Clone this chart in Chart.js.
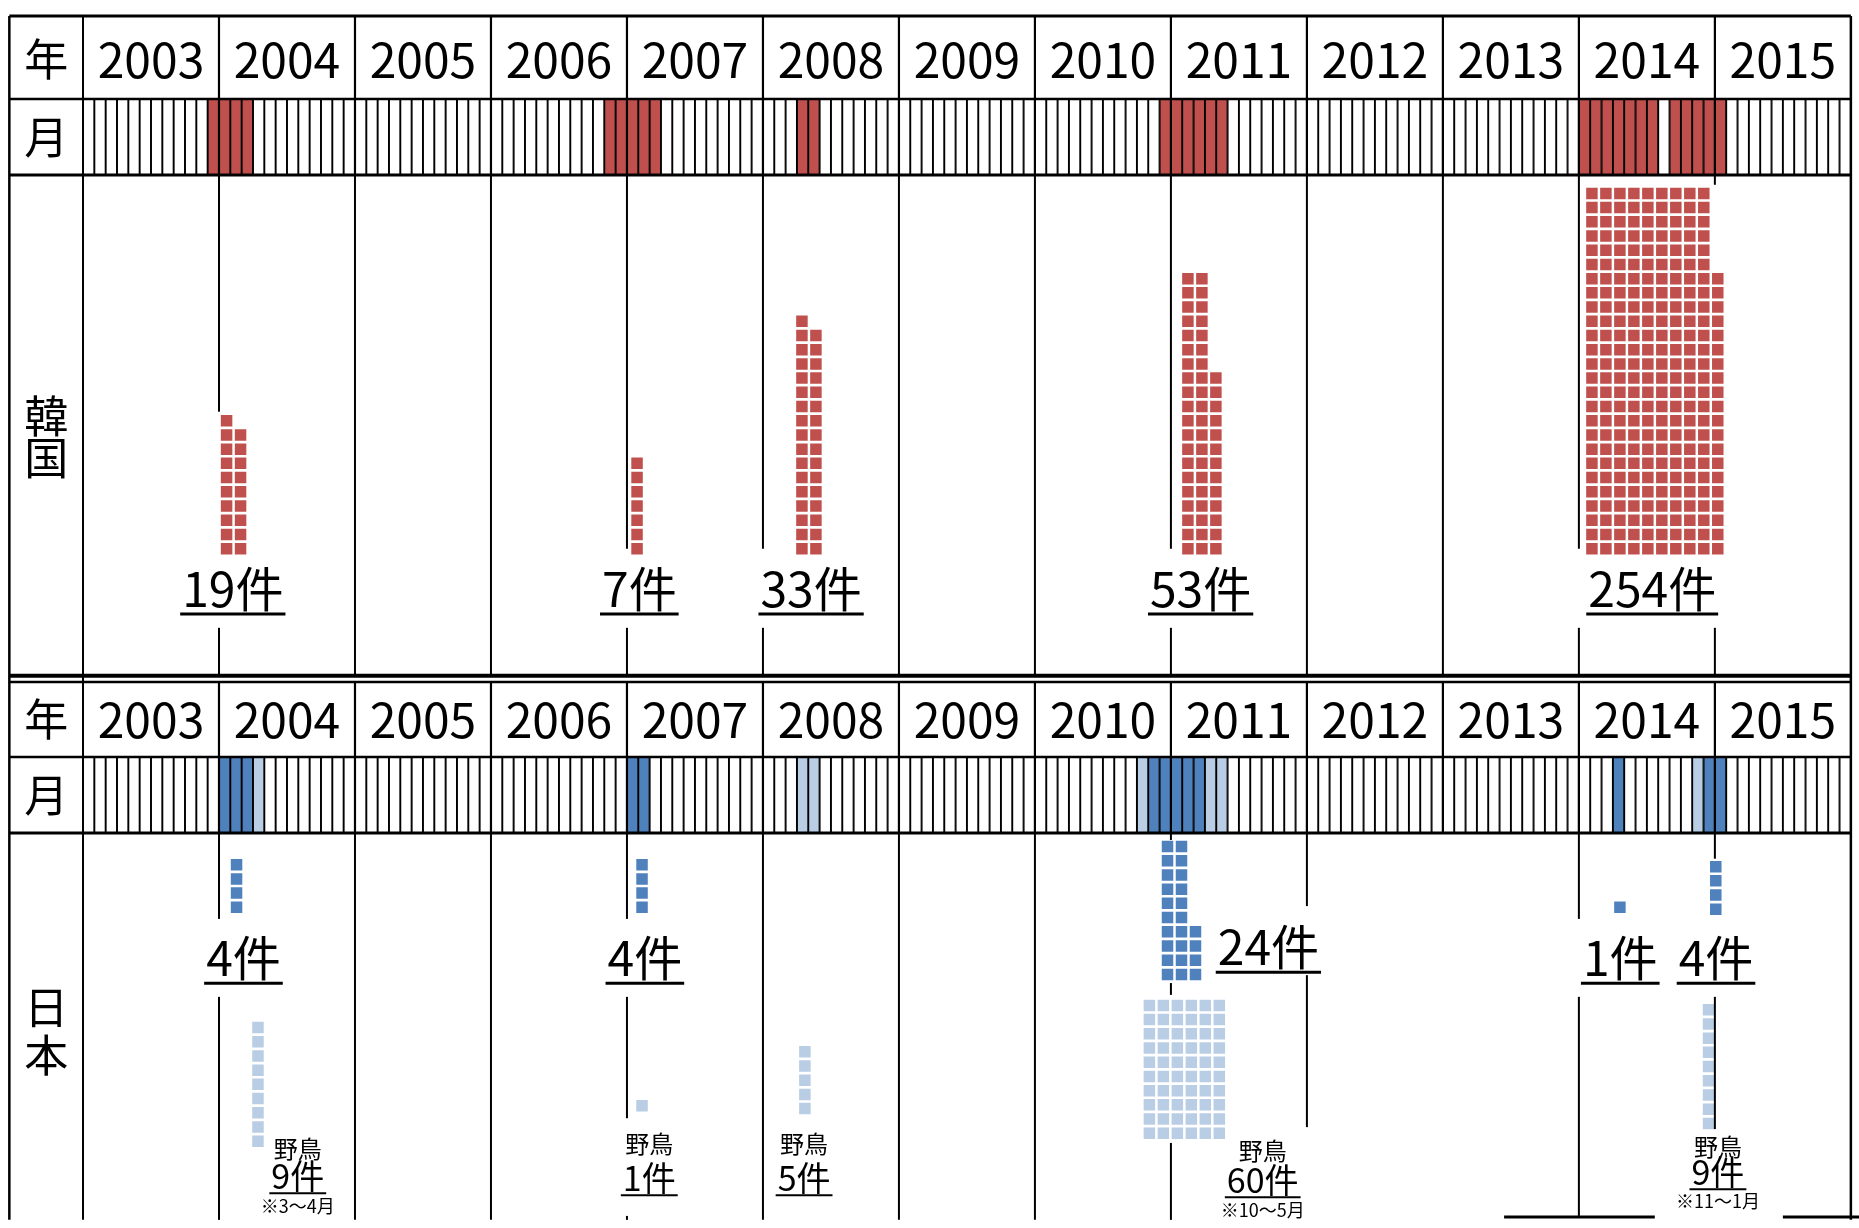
<!DOCTYPE html>
<html lang="ja">
<head>
<meta charset="utf-8">
<title>鳥インフルエンザ発生状況 韓国・日本</title>
<script src="https://cdn.jsdelivr.net/npm/chart.js@4.4.1/dist/chart.umd.min.js"></script>
<style>
  html, body { margin: 0; padding: 0; background: #fff; }
  #wrap { width: 1859px; height: 1228px; position: relative; }
</style>
</head>
<body>
<div id="wrap"><canvas id="chart"></canvas></div>
<script>
// year row
const years = ['2003', '2004', '2005', '2006', '2007', '2008', '2009', '2010', '2011', '2012', '2013', '2014', '2015']

// months with outbreaks, counted from 2003/1 (= 0)
const krMonths = [11, 12, 13, 14, 46, 47, 48, 49, 50, 63, 64, 95, 96, 97, 98, 99, 100,
                  132, 133, 134, 135, 136, 137, 138, 140, 141, 142, 143, 144]
const jpPoultryMonths = [12, 13, 14, 48, 49, 94, 95, 96, 97, 98, 135, 143, 144]
const jpWildMonths = [15, 63, 64, 93, 99, 100, 142]

// cases per outbreak, and how the squares pile up in columns
const krCounts = [19, 7, 33, 53, 254]
const krColumns = [[10, 9], [7], [17, 16], [20, 20, 13], [26, 26, 26, 26, 26, 26, 26, 26, 26, 20]]
const jpPoultryCounts = [4, 4, 24, 1, 4]
const jpPoultryColumns = [[4], [4], [10, 10, 4], [1], [4]]
const jpWildCounts = [9, 1, 5, 60, 9]
const jpWildColumns = [[9], [1], [5], [10, 10, 10, 10, 10, 10], [9]]
const jpWildPeriods = ['※3～4月', '', '', '※10～5月', '※11～1月']

const RED = '#c0504d'
const BLUE = '#4f81bd'
const LIGHT = '#b9cde5'
const FONT = '"Noto Sans CJK JP", "Noto Sans", sans-serif'

// layout (x in months from 2003/1, y in px from the top)
const SQUARE = 11.5
const ROW_STEP = 14.4
const COL_STEP = 1.234
const krPlace = [[12.67, 553.5], [48.89, 553.5], [63.44, 553.5], [97.5, 553.5], [133.15, 553.5]]
const jpPoultryPlace = [[13.55, 917], [49.33, 917], [95.7, 985], [135.62, 917], [144.08, 919]]
const jpWildPlace = [[15.44, 1154], [49.33, 1118], [63.7, 1121], [94.1, 1146], [143.44, 1136]]
const krLabelAt = [[13.22, 607], [49.09, 607], [64.25, 607], [98.62, 607], [138.47, 607]]
const jpPoultryLabelAt = [[14.16, 981], [49.58, 981], [104.6, 970], [135.65, 981], [144.1, 981]]
const jpWildLabelAt = [[18.95, 1165, 1197, 1221], [49.97, 1160, 1199, 0], [63.63, 1160, 1199, 0],
                       [104.1, 1167, 1201, 1225], [144.27, 1163, 1193, 1216]]

const panels = [
    {top: 8, year: 92, month: 169, end: 676, yearY: 52, monthY: 131, name: ['韓', '国'], nameY: [414, 456]},
    {top: 683, year: 759, month: 836, end: 1228, yearY: 721, monthY: 798, name: ['日', '本'], nameY: [1013, 1061]}
]
// body rules at year boundaries that are broken by squares or labels
const bodyBreaks = [
    {1: [[169, 409], [628, 676]], 4: [[169, 548], [628, 676]], 5: [[169, 548], [628, 676]],
     8: [[169, 548], [628, 676]], 11: [[169, 548], [628, 676]], 12: [[169, 179], [628, 676]]},
    {1: [[836, 923], [1002, 1228]], 4: [[836, 923], [1002, 1125], [1224, 1228]],
     8: [[836, 843], [988, 1000], [1150, 1228]], 9: [[836, 910], [980, 1134]], 10: [],
     11: [[836, 923], [1002, 1224]], 12: [[836, 862], [1002, 1136]]}
]

const monthIdx = Array.from({length: 156}, (_, i) => i)

function cells(p) {
    return monthIdx.map(i => ({x: i + 0.5, y: [p.year, p.month]}))
}

function squares(columns, place) {
    let pts = []
    columns.forEach((cols, b) => {
        cols.forEach((n, c) => {
            for (let r = 0; r < n; r++) {
                pts.push({x: place[b][0] + c * COL_STEP, y: place[b][1] - SQUARE / 2 - r * ROW_STEP})
            }
        })
    })
    return pts
}

const krColors = monthIdx.map(i => krMonths.includes(i) ? RED : '#fff')
const jpColors = monthIdx.map(i => jpPoultryMonths.includes(i) ? BLUE : (jpWildMonths.includes(i) ? LIGHT : '#fff'))

function rule(ctx, x1, y1, x2, y2, w) {
    ctx.beginPath()
    ctx.lineWidth = w
    ctx.moveTo(x1, y1)
    ctx.lineTo(x2, y2)
    ctx.stroke()
}

function text(ctx, txt, x, y, size, under, uw) {
    ctx.font = size + 'px ' + FONT
    ctx.fillText(txt, x, y)
    if (under) {
        const w = ctx.measureText(txt).width
        rule(ctx, x - w / 2 - 2, y + under, x + w / 2 + 2, y + under, uw)
    }
}

const tablePlugin = {
    id: 'table',
    afterDatasetsDraw(chart) {
        const ctx = chart.ctx
        const X = v => chart.scales.x.getPixelForValue(v)
        const Y = v => chart.scales.y.getPixelForValue(v)
        ctx.save()
        ctx.strokeStyle = '#000'
        ctx.fillStyle = '#000'
        ctx.lineCap = 'butt'

        panels.forEach((p, pi) => {
            // frame of the year and month rows
            rule(ctx, X(-6.5), Y(p.top), X(156), Y(p.top), pi == 0 ? 3 : 2.5)
            rule(ctx, X(-6.5), Y(p.year), X(156), Y(p.year), 2.5)
            rule(ctx, X(-6.5), Y(p.month), X(156), Y(p.month), 3)
            for (let k = 1; k < 13; k++) {
                rule(ctx, X(12 * k), Y(p.top), X(12 * k), Y(p.month), 2.2)
                const segs = bodyBreaks[pi][k] || [[p.month, p.end]]
                segs.forEach(s => rule(ctx, X(12 * k), Y(s[0]), X(12 * k), Y(s[1]), 2))
            }
            ctx.textAlign = 'center'
            ctx.textBaseline = 'middle'
            ctx.font = '44px ' + FONT
            ctx.fillText('年', X(-3.25), Y(p.yearY))
            ctx.fillText('月', X(-3.25), Y(p.monthY))
            p.name.forEach((ch, i) => ctx.fillText(ch, X(-3.25), Y(p.nameY[i])))
            ctx.font = '48px ' + FONT
            years.forEach((yr, i) => ctx.fillText(yr, X(12 * i + 6), Y(p.yearY)))
        })
        // outer verticals and the double rule between the two panels
        rule(ctx, X(-6.5), Y(8), X(-6.5), Y(1228), 2.5)
        rule(ctx, X(0), Y(8), X(0), Y(1228), 2)
        rule(ctx, X(156), Y(8), X(156), Y(1228), 2.5)
        rule(ctx, X(-6.5), Y(676.5), X(156), Y(676.5), 4)
        // start of the box below (cut off)
        rule(ctx, X(125.4), Y(1225), X(138.7), Y(1225), 3)
        rule(ctx, X(150), Y(1225), X(157), Y(1225), 3)

        ctx.textAlign = 'center'
        ctx.textBaseline = 'alphabetic'
        krCounts.forEach((n, i) => text(ctx, n + '件', X(krLabelAt[i][0]), Y(krLabelAt[i][1]), 48, 7, 3))
        jpPoultryCounts.forEach((n, i) => text(ctx, n + '件', X(jpPoultryLabelAt[i][0]), Y(jpPoultryLabelAt[i][1]), 48, 7, 3))
        jpWildCounts.forEach((n, i) => {
            const a = jpWildLabelAt[i]
            text(ctx, '野鳥', X(a[0]), Y(a[1]), 24)
            text(ctx, n + '件', X(a[0]), Y(a[2]), 34, 4, 2)
            if (jpWildPeriods[i]) text(ctx, jpWildPeriods[i], X(a[0]), Y(a[3]), 18)
        })
        ctx.restore()
    }
}

const cellStyle = {type: 'bar', borderColor: '#000', borderWidth: 1.3, borderSkipped: false,
                   grouped: false, barPercentage: 1, categoryPercentage: 1}
const squareStyle = {type: 'scatter', pointStyle: 'rect', pointRadius: SQUARE / Math.SQRT2,
                     pointBorderWidth: 0, pointHoverRadius: SQUARE / Math.SQRT2}

new Chart(document.getElementById('chart'), {
    type: 'bar',
    data: {
        datasets: [
            Object.assign({label: '韓国 月', data: cells(panels[0]), backgroundColor: krColors}, cellStyle),
            Object.assign({label: '日本 月', data: cells(panels[1]), backgroundColor: jpColors}, cellStyle),
            Object.assign({label: '韓国', data: squares(krColumns, krPlace), pointBackgroundColor: RED, backgroundColor: RED}, squareStyle),
            Object.assign({label: '日本 家きん', data: squares(jpPoultryColumns, jpPoultryPlace), pointBackgroundColor: BLUE, backgroundColor: BLUE}, squareStyle),
            Object.assign({label: '日本 野鳥', data: squares(jpWildColumns, jpWildPlace), pointBackgroundColor: LIGHT, backgroundColor: LIGHT}, squareStyle)
        ]
    },
    options: {
        responsive: true,
        maintainAspectRatio: false,
        animation: false,
        events: [],
        layout: {padding: {left: 83, right: 7, top: 0, bottom: 0}},
        plugins: {legend: {display: false}, tooltip: {enabled: false}},
        scales: {
            x: {type: 'linear', min: 0, max: 156, offset: false, display: false},
            y: {type: 'linear', min: 0, max: 1228, reverse: true, display: false}
        }
    },
    plugins: [tablePlugin]
})
</script>
</body>
</html>
